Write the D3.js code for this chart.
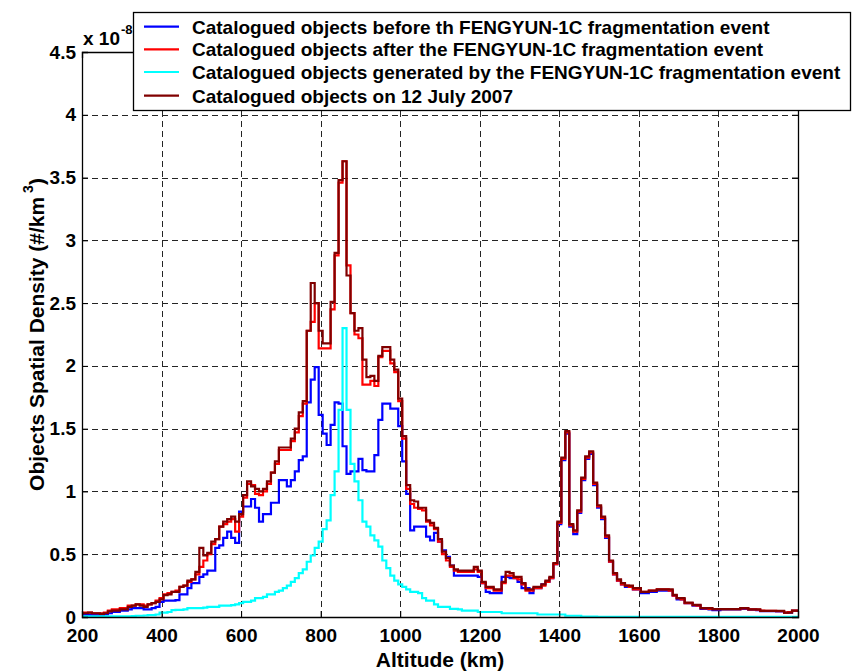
<!DOCTYPE html>
<html>
<head>
<meta charset="utf-8">
<script src="https://cdn.jsdelivr.net/npm/d3@7"></script>
<style>
  html, body { margin: 0; padding: 0; background: #fff; }
  svg { display: block; }
  text { font-family: "Liberation Sans", Arial, Helvetica, sans-serif; font-weight: bold; fill: #000; }
</style>
</head>
<body>
<svg id="chart" width="852" height="671"></svg>
<script>
// Altitude bin centres (km), 10 km bins from 200 to 2000
const altitudes = d3.range(200, 2001, 10);

// Spatial density, units of 1e-8 objects/km^3
const beforeEvent = [
  0.01,0.015,0.015,0.015,0.015,0.015,0.02,0.03,0.04,0.04,
  0.05,0.05,0.06,0.07,0.07,0.07,0.06,0.06,0.07,0.08,
  0.12,0.13,0.13,0.13,0.135,0.18,0.18,0.23,0.27,0.27,
  0.32,0.34,0.37,0.37,0.55,0.57,0.63,0.68,0.63,0.59,
  0.84,0.88,0.88,0.94,0.87,0.76,0.82,0.82,0.91,0.91,
  1.09,1.09,1.04,1.09,1.16,1.25,1.28,1.71,1.89,1.99,
  1.61,1.46,1.37,1.53,1.71,1.70,1.36,1.14,1.16,1.16,
  1.26,1.17,1.16,1.16,1.29,1.57,1.70,1.70,1.66,1.66,
  1.52,1.24,0.98,0.69,0.72,0.72,0.72,0.64,0.61,0.67,
  0.6,0.53,0.48,0.41,0.33,0.33,0.33,0.33,0.33,0.33,
  0.32,0.27,0.2,0.19,0.19,0.19,0.32,0.32,0.31,0.31,
  0.28,0.23,0.23,0.19,0.23,0.23,0.26,0.28,0.31,0.42,
  0.74,1.25,1.46,0.72,0.66,0.83,1.09,1.26,1.3,1.05,
  0.87,0.78,0.63,0.44,0.34,0.29,0.26,0.24,0.24,0.22,
  0.22,0.19,0.19,0.2,0.2,0.21,0.21,0.21,0.21,0.17,
  0.14,0.14,0.11,0.11,0.09,0.09,0.065,0.065,0.06,0.055,
  0.055,0.06,0.06,0.06,0.06,0.06,0.065,0.065,0.058,0.058,
  0.055,0.046,0.046,0.046,0.046,0.045,0.045,0.033,0.035,0.048,
  0.048
];

const afterEvent = [
  0.03,0.035,0.035,0.03,0.03,0.03,0.035,0.05,0.06,0.06,
  0.07,0.07,0.09,0.09,0.1,0.1,0.09,0.1,0.11,0.13,
  0.15,0.18,0.19,0.2,0.21,0.24,0.25,0.28,0.3,0.34,
  0.4,0.45,0.5,0.58,0.62,0.72,0.74,0.76,0.78,0.68,
  0.8,0.95,1.06,1.05,0.98,0.97,1.0,1.06,1.15,1.22,
  1.33,1.33,1.33,1.4,1.47,1.6,1.7,2.28,2.35,2.5,
  2.14,2.14,2.14,2.45,2.88,3.46,3.63,2.8,2.42,2.25,
  2.22,1.85,1.85,1.88,1.84,2.07,2.12,2.12,2.02,1.95,
  1.72,1.42,1.02,0.9,0.87,0.86,0.85,0.76,0.73,0.7,
  0.6,0.5,0.45,0.4,0.37,0.36,0.36,0.36,0.36,0.38,
  0.36,0.27,0.23,0.23,0.21,0.21,0.27,0.33,0.33,0.31,
  0.3,0.26,0.21,0.21,0.23,0.23,0.25,0.28,0.31,0.42,
  0.75,1.26,1.47,0.73,0.68,0.84,1.1,1.27,1.31,1.06,
  0.88,0.79,0.64,0.44,0.34,0.29,0.26,0.25,0.24,0.22,
  0.22,0.2,0.2,0.21,0.21,0.22,0.22,0.22,0.21,0.17,
  0.15,0.14,0.11,0.11,0.095,0.09,0.07,0.068,0.065,0.063,
  0.062,0.062,0.063,0.063,0.062,0.062,0.068,0.068,0.06,0.06,
  0.058,0.05,0.048,0.048,0.048,0.046,0.046,0.035,0.04,0.05,
  0.05
];

const generatedByEvent = [
  0.005,0.005,0.005,0.005,0.005,0.005,0.005,0.005,0.005,0.005,
  0.005,0.005,0.005,0.008,0.01,0.01,0.012,0.015,0.015,0.02,
  0.035,0.035,0.04,0.055,0.056,0.056,0.06,0.07,0.07,0.07,
  0.07,0.075,0.08,0.08,0.08,0.09,0.09,0.09,0.095,0.1,
  0.11,0.12,0.12,0.13,0.15,0.15,0.16,0.18,0.18,0.2,
  0.21,0.23,0.25,0.28,0.31,0.35,0.38,0.44,0.49,0.55,
  0.6,0.7,0.77,0.97,1.16,1.65,2.3,1.65,1.22,1.08,
  0.93,0.76,0.72,0.65,0.61,0.56,0.45,0.39,0.33,0.29,
  0.26,0.24,0.22,0.2,0.2,0.19,0.15,0.13,0.13,0.1,
  0.08,0.08,0.08,0.065,0.065,0.06,0.05,0.05,0.05,0.05,
  0.04,0.04,0.04,0.04,0.04,0.04,0.03,0.03,0.03,0.03,
  0.03,0.03,0.03,0.03,0.03,0.02,0.02,0.02,0.02,0.02,
  0.02,0.02,0.01,0.01,0.01,0.01,0.003,0.003,0.003,0.003,
  0.002,0.002,0.002,0.002,0.002,0.002,0.002,0.002,0.002,0.002,
  0.002,0.002,0.002,0.002,0.002,0.002,0.002,0.002,0.002,0.002,
  0.002,0.002,0.002,0.002,0.002,0.002,0.002,0.002,0.002,0.002,
  0.002,0.002,0.002,0.002,0.002,0.002,0.002,0.002,0.002,0.002,
  0.002,0.002,0.002,0.002,0.002,0.002,0.002,0.002,0.002,0.002,
  0.002
];

const july2007 = [
  0.03,0.03,0.035,0.03,0.03,0.025,0.03,0.045,0.05,0.05,
  0.06,0.06,0.08,0.09,0.1,0.09,0.08,0.1,0.11,0.12,
  0.14,0.175,0.18,0.2,0.2,0.24,0.25,0.29,0.3,0.36,
  0.55,0.49,0.51,0.6,0.62,0.72,0.76,0.78,0.8,0.76,
  0.82,0.97,1.08,1.04,1.02,1.0,1.02,1.08,1.15,1.24,
  1.35,1.35,1.35,1.42,1.5,1.63,1.72,2.28,2.66,2.5,
  2.28,2.18,2.18,2.51,2.9,3.48,3.63,2.72,2.42,2.28,
  2.3,2.05,1.91,1.92,1.88,2.08,2.15,2.15,2.05,1.97,
  1.74,1.44,1.05,0.93,0.92,0.87,0.87,0.77,0.75,0.71,
  0.62,0.52,0.47,0.41,0.38,0.37,0.37,0.37,0.37,0.40,
  0.37,0.28,0.24,0.24,0.22,0.22,0.28,0.36,0.35,0.32,
  0.32,0.27,0.22,0.22,0.24,0.24,0.26,0.29,0.32,0.43,
  0.76,1.27,1.48,0.74,0.69,0.85,1.11,1.28,1.32,1.07,
  0.89,0.8,0.65,0.45,0.35,0.3,0.27,0.25,0.25,0.23,
  0.23,0.2,0.2,0.21,0.21,0.22,0.22,0.22,0.22,0.176,
  0.15,0.15,0.114,0.114,0.096,0.096,0.07,0.07,0.07,0.063,
  0.063,0.063,0.063,0.063,0.063,0.063,0.07,0.07,0.06,0.06,
  0.06,0.048,0.048,0.048,0.048,0.048,0.048,0.035,0.035,0.05,
  0.05
];

const seriesNames = [
  "Catalogued objects before th FENGYUN-1C fragmentation event",
  "Catalogued objects after the FENGYUN-1C fragmentation event",
  "Catalogued objects generated by the FENGYUN-1C fragmentation event",
  "Catalogued objects on 12 July 2007"
];
const seriesColors = ["#0000ff", "#ff0000", "#00ffff", "#800000"];
const seriesValues = [beforeEvent, afterEvent, generatedByEvent, july2007];

const xTicks = [200, 400, 600, 800, 1000, 1200, 1400, 1600, 1800, 2000];
const yTicks = [0, 0.5, 1, 1.5, 2, 2.5, 3, 3.5, 4, 4.5];

const xLabel = "Altitude (km)";
const yLabelMain = "Objects Spatial Density (#/km";

// ---------- layout ----------
const svg = d3.select("#chart");
const L = 82, R = 798, T = 52, B = 617;

const x = d3.scaleLinear().domain([200, 2000]).range([L, R]);
const y = d3.scaleLinear().domain([0, 4.5]).range([B, T]);

svg.append("rect").attr("width", 852).attr("height", 671).attr("fill", "#fff");

// grid
const grid = svg.append("g").attr("stroke", "#000").attr("stroke-width", 1)
  .attr("stroke-dasharray", "6,4").attr("shape-rendering", "crispEdges").attr("opacity", 0.85);
xTicks.filter(v => v > 200 && v < 2000).forEach(v => {
  grid.append("line").attr("x1", Math.round(x(v)) + 0.5).attr("x2", Math.round(x(v)) + 0.5)
    .attr("y1", B).attr("y2", T);
});
yTicks.filter(v => v > 0 && v < 4.5).forEach(v => {
  grid.append("line").attr("y1", Math.round(y(v)) + 0.5).attr("y2", Math.round(y(v)) + 0.5)
    .attr("x1", L).attr("x2", R);
});

// clip
svg.append("clipPath").attr("id", "clip").append("rect")
  .attr("x", L).attr("y", T).attr("width", R - L).attr("height", B - T);

const line = d3.line()
  .x((d, i) => x(altitudes[i]))
  .y(d => y(d))
  .curve(d3.curveStep);

const plot = svg.append("g").attr("clip-path", "url(#clip)");
seriesValues.forEach((vals, k) => {
  plot.append("path")
    .datum(vals)
    .attr("d", line)
    .attr("fill", "none")
    .attr("stroke", seriesColors[k])
    .attr("stroke-width", 2.2)
    .attr("stroke-linejoin", "miter");
});

// axes (box + inward ticks)
const axB = d3.axisBottom(x).tickValues(xTicks).tickSize(-6).tickPadding(12).tickFormat(d3.format("d"));
const axL = d3.axisLeft(y).tickValues(yTicks).tickSize(-6).tickPadding(6).tickFormat(d => d3.format("~g")(d));
const axT = d3.axisTop(x).tickValues(xTicks).tickSize(-6).tickFormat("");
const axR = d3.axisRight(y).tickValues(yTicks).tickSize(-6).tickFormat("");

function styleAxis(g) {
  g.selectAll("path.domain").attr("stroke", "#000").attr("stroke-width", 1.3);
  g.selectAll(".tick line").attr("stroke", "#000").attr("stroke-width", 1);
  g.selectAll("text").attr("font-family", "Liberation Sans, Arial, sans-serif")
    .attr("font-weight", "bold").attr("font-size", 19).attr("fill", "#000");
}
svg.append("g").attr("transform", `translate(0,${B})`).call(axB).call(styleAxis);
svg.append("g").attr("transform", `translate(${L},0)`).call(axL).call(styleAxis);
svg.append("g").attr("transform", `translate(0,${T})`).call(axT).call(styleAxis);
svg.append("g").attr("transform", `translate(${R},0)`).call(axR).call(styleAxis);

// exponent label
const ex = svg.append("text").attr("x", 83).attr("y", 45).attr("font-size", 19);
ex.append("tspan").text("x 10");
ex.append("tspan").attr("font-size", 13).attr("dy", -11).attr("dx", 1).text("-8");

// axis titles
svg.append("text").attr("x", (L + R) / 2).attr("y", 667).attr("text-anchor", "middle")
  .attr("font-size", 21).text(xLabel);

const yl = svg.append("text").attr("transform", `translate(44,${(T + B) / 2}) rotate(-90)`)
  .attr("text-anchor", "middle").attr("font-size", 21);
yl.append("tspan").text(yLabelMain);
yl.append("tspan").attr("font-size", 14).attr("dy", -11).text(" 3");
yl.append("tspan").attr("dy", 11).text(")");

// legend
const lg = svg.append("g");
lg.append("rect").attr("x", 133.5).attr("y", 12.5).attr("width", 717).attr("height", 98)
  .attr("fill", "#fff").attr("stroke", "#000").attr("stroke-width", 1.3);
const rowY = [26.7, 49.3, 72, 95.7];
seriesNames.forEach((name, k) => {
  lg.append("line").attr("x1", 144).attr("x2", 179).attr("y1", rowY[k]).attr("y2", rowY[k])
    .attr("stroke", seriesColors[k]).attr("stroke-width", 2.2);
  lg.append("text").attr("x", 192).attr("y", rowY[k] + 7).attr("font-size", 19).text(name);
});
</script>
</body>
</html>
